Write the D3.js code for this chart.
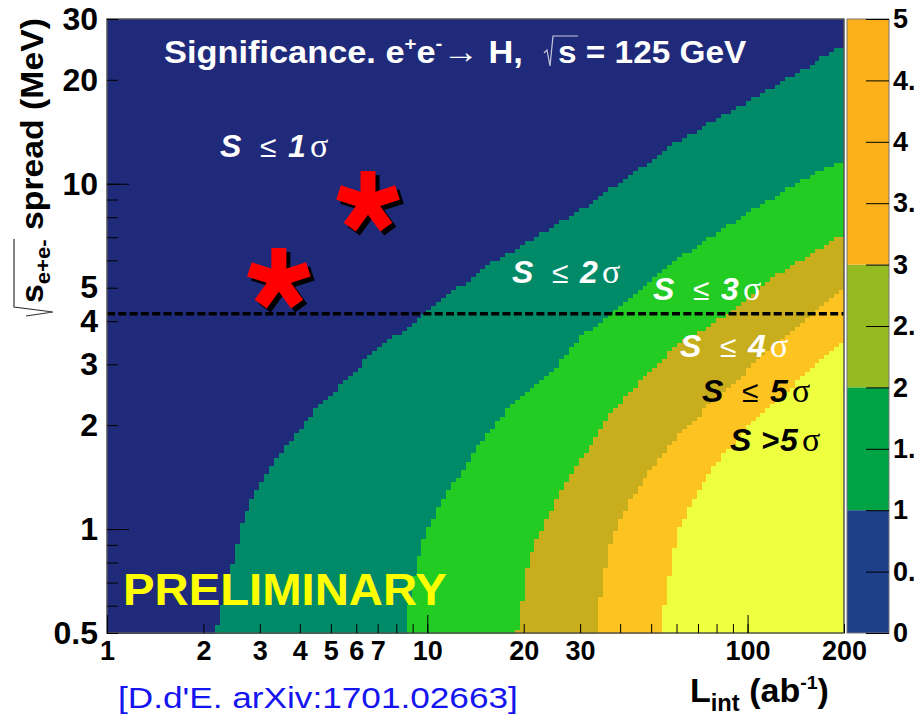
<!DOCTYPE html>
<html>
<head>
<meta charset="utf-8">
<title>Significance e+e- -> H</title>
<script src="https://cdn.jsdelivr.net/npm/d3@7"></script>
<style>
  body { margin: 0; background: #fff; }
  text { font-family: "Liberation Sans", Arial, sans-serif; }
</style>
</head>
<body>
<svg width="914" height="721" id="mainsvg"></svg>
<script>

// contour edges: [spread (MeV), L_int (ab^-1)]
const edge1sigma = [[0.5,2.19],[0.6,2.29],[0.8,2.47],[1.0,2.6],[1.2,2.8],[1.41,3.07],[1.61,3.4],[1.9,3.92],[2.21,4.46],[2.49,5.08],[2.95,6.08],[3.37,7.12],[3.85,8.64],[4.22,9.98],[4.7,11.4],[5.63,14.6],[8.4,30.0],[13.4,61.5],[19.6,126],[25.2,199]];
const edge2sigma = [[0.5,8.46],[0.8,9.22],[1.01,10.05],[1.21,11.12],[1.48,12.83],[1.73,14.3],[2.0,16.27],[2.32,18.5],[2.76,23.6],[3.6,30.0],[4.31,38.0],[6.14,61.5],[8.23,99.6],[10.7,160],[11.7,199]];
const edge3sigma = [[0.5,19.05],[0.8,20.6],[1.08,23.6],[1.39,27.3],[1.58,30.0],[2.21,38.0],[2.83,48.5],[3.46,61.5],[3.95,78.0],[4.22,88.1],[5.51,126],[7.2,199]];
const edge4sigma = [[0.5,33.9],[0.7,35.1],[0.97,38.0],[1.21,42.9],[1.45,48.5],[1.9,61.5],[2.36,78.0],[2.83,97],[3.3,116],[3.85,140],[4.22,160],[5.0,199]];
const edge5sigma = [[0.5,53.3],[0.62,55.2],[0.97,60.2],[1.21,67.5],[1.51,78.0],[1.98,99.6],[2.41,126],[2.95,160],[3.53,199]];
const bandEdges = [edge1sigma, edge2sigma, edge3sigma, edge4sigma, edge5sigma];
const bandColors = ['#1f2a7a', '#008a68', '#22cc22', '#c8ae1c', '#fdc320', '#eeff40'];

// star markers [L_int, spread]
const stars = [[3.44, 5.3], [6.53, 8.85]];
const higgsWidth = 4.2;

const xTicks = [1,2,3,4,5,6,7,8,9,10,20,30,40,50,60,70,80,90,100,200];
const xMajor = [1, 10, 100];
const xTickLabels = [1,2,3,4,5,6,7,10,20,30,100,200];
const yTicks = [0.5,0.6,0.7,0.8,0.9,1,2,3,4,5,6,7,8,9,10,20,30];
const yMajor = [1, 10];
const yTickLabels = [0.5,1,2,3,4,5,10,20,30];

// palette (colour bar)
const paletteLevels = [0, 1, 2, 3, 5];
const paletteColors = ['#1e3f8a', '#00a444', '#94bc22', '#fdb01a'];
const paletteTicks = [0,0.5,1,1.5,2,2.5,3,3.5,4,4.5,5];

const svg = d3.select('#mainsvg');
const X0 = 107, X1 = 844, Y0 = 19, Y1 = 633;

const x = d3.scaleLog().domain([1, 200]).range([X0, X1]);
const y = d3.scaleLog().domain([0.5, 30]).range([Y1, Y0]);
const z = d3.scaleLinear().domain([0, 5]).range([Y1, Y0]);

// log-log interpolation along a read contour
function edgeAt(pts, s) {
  if (s > pts[pts.length - 1][0]) return Infinity;
  if (s <= pts[0][0]) return pts[0][1];
  const i = d3.bisector(d => d[0]).left(pts, s);
  const a = pts[i - 1], b = pts[i];
  const t = Math.log(s / a[0]) / Math.log(b[0] / a[0]);
  return a[1] * Math.pow(b[1] / a[1], t);
}

// histogram binning (log bins, like the TH2)
const nx = 150, ny = 150;
const xe = d3.range(nx + 1).map(i => Math.pow(200, i / nx));
const ye = d3.range(ny + 1).map(j => 0.5 * Math.pow(60, j / ny));

const cells = [];
for (let j = 0; j < ny; j++) {
  const sc = Math.sqrt(ye[j] * ye[j + 1]);
  const cuts = [1];
  bandEdges.forEach(pts => {
    const L = edgeAt(pts, sc);
    let i = 0;
    while (i < nx && Math.sqrt(xe[i] * xe[i + 1]) < L) i++;
    cuts.push(Math.max(i < nx ? xe[i] : 200, cuts[cuts.length - 1]));
  });
  cuts.push(200);
  for (let k = 0; k < 6; k++) {
    if (cuts[k + 1] > cuts[k]) cells.push({x0: cuts[k], x1: cuts[k + 1], y0: ye[j], y1: ye[j + 1], band: k});
  }
}

svg.append('rect')
  .attr('x', X0).attr('y', Y0).attr('width', X1 - X0).attr('height', Y1 - Y0)
  .attr('fill', bandColors[0]);

svg.append('g').selectAll('rect')
  .data(cells)
  .enter().append('rect')
  .attr('x', d => x(d.x0))
  .attr('y', d => y(d.y1))
  .attr('width', d => x(d.x1) - x(d.x0) + 0.4)
  .attr('height', d => y(d.y0) - y(d.y1) + 0.6)
  .attr('fill', d => bandColors[d.band])
  .attr('shape-rendering', 'crispEdges');

// keep everything inside the frame
svg.append('rect').attr('x', X1).attr('y', 0).attr('width', 3).attr('height', Y1 + 2).attr('fill', '#fff');

function fit(t, x0, x1) {
  const w = t.node().getBBox().width;
  const s = (x1 - x0) / w;
  t.attr('transform', `translate(${x0},0) scale(${s},1) translate(${-x0},0)`);
}

// title
const title = svg.append('text')
  .attr('x', 164).attr('y', 63)
  .attr('fill', '#fff').attr('font-weight', 'bold').attr('font-size', 32);
title.append('tspan').text('Significance. e');
title.append('tspan').attr('font-size', 19).attr('dy', -13).text('+');
title.append('tspan').attr('dy', 13).text('e');
title.append('tspan').attr('font-size', 19).attr('dy', -13).text('-');
title.append('tspan').attr('dy', 13).attr('font-weight', 'normal').attr('font-size', 34).text('\u2192');
title.append('tspan').text(' H,');
fit(title, 164, 523);

svg.append('path')
  .attr('d', 'M544,53 L547,50 L550,66 L553,36 L578,36')
  .attr('fill', 'none').attr('stroke', '#c8c8d8').attr('stroke-width', 1.2);

const title2 = svg.append('text')
  .attr('x', 558).attr('y', 63)
  .attr('fill', '#fff').attr('font-weight', 'bold').attr('font-size', 32)
  .text('s = 125 GeV');
fit(title2, 558, 747);

// significance labels
const sigLabels = [
  {op: '\u2264', n: '1', px: 220, py: 157, fill: '#fff'},
  {op: '\u2264', n: '2', px: 512, py: 283, fill: '#fff'},
  {op: '\u2264', n: '3', px: 653, py: 300, fill: '#fff'},
  {op: '\u2264', n: '4', px: 680, py: 357, fill: '#fff'},
  {op: '\u2264', n: '5', px: 702, py: 402, fill: '#000'},
  {op: '>', n: '5', px: 730, py: 451, fill: '#000'}
];
const lab = svg.append('g').selectAll('g')
  .data(sigLabels)
  .enter().append('g')
  .attr('transform', d => `translate(${d.px},${d.py})`)
  .attr('fill', d => d.fill);
lab.append('text').attr('font-size', 32).attr('font-weight', 'bold').attr('font-style', 'italic').text('S');
lab.append('text')
  .attr('x', d => d.op === '>' ? 31 : 40)
  .attr('font-size', d => d.op === '>' ? 31 : 30)
  .attr('font-weight', d => d.op === '>' ? 'bold' : 'normal')
  .attr('font-style', d => d.op === '>' ? 'italic' : 'normal')
  .text(d => d.op);
lab.append('text')
  .attr('x', d => d.op === '>' ? 50 : 68)
  .attr('font-size', 32).attr('font-weight', 'bold').attr('font-style', 'italic')
  .text(d => d.n);
lab.append('text')
  .attr('x', d => d.op === '>' ? 72 : 90)
  .attr('font-size', 34).style('font-family', '"Liberation Serif", serif')
  .text('\u03c3');

// preliminary
const prelim = svg.append('text')
  .attr('x', 123).attr('y', 605)
  .attr('fill', '#ffff00').attr('font-weight', 'bold').attr('font-size', 44)
  .text('PRELIMINARY');
fit(prelim, 123, 447);

// Higgs width line
svg.append('line')
  .attr('x1', x(1)).attr('x2', x(200))
  .attr('y1', y(higgsWidth)).attr('y2', y(higgsWidth))
  .attr('stroke', '#000').attr('stroke-width', 3.5)
  .attr('stroke-dasharray', '8,3.3');

// stars
const armAngles = [-90, -18, 54, 126, 198];
function star(g, cx, cy, color) {
  g.append('g').selectAll('line')
    .data(armAngles)
    .enter().append('line')
    .attr('x1', cx).attr('y1', cy)
    .attr('x2', a => cx + 31 * Math.cos(a * Math.PI / 180))
    .attr('y2', a => cy + 31 * Math.sin(a * Math.PI / 180))
    .attr('stroke', color).attr('stroke-width', 15);
}
const starG = svg.append('g');
stars.forEach(s => star(starG, x(s[0]) + 4, y(s[1]) + 4, '#000'));
stars.forEach(s => star(starG, x(s[0]), y(s[1]), '#ff0000'));

// frame
svg.append('rect')
  .attr('x', X0).attr('y', Y0).attr('width', X1 - X0).attr('height', Y1 - Y0)
  .attr('fill', 'none').attr('stroke', '#555').attr('stroke-width', 1.5);

// x axis: ticks inside, labels below
const xg = svg.append('g').attr('transform', `translate(0,${Y1})`);
xg.append('g').call(d3.axisBottom(x).tickValues(xTicks).tickSize(-9).tickFormat(''));
xg.append('g').call(d3.axisBottom(x).tickValues(xMajor).tickSize(-18).tickFormat(''));
xg.append('g').call(d3.axisBottom(x).tickValues(xTickLabels).tickSize(0).tickPadding(8).tickFormat(d => d));
xg.selectAll('.domain').remove();
xg.selectAll('line').attr('stroke', '#000');
xg.selectAll('text').style('font-size', '27px').style('font-weight', 'bold')
  .style('font-family', '"Liberation Sans", Arial, sans-serif');

// y axis
const yg = svg.append('g').attr('transform', `translate(${X0},0)`);
yg.append('g').call(d3.axisLeft(y).tickValues(yTicks).tickSize(-11).tickFormat(''));
yg.append('g').call(d3.axisLeft(y).tickValues(yMajor).tickSize(-22).tickFormat(''));
yg.append('g').call(d3.axisLeft(y).tickValues(yTickLabels).tickSize(0).tickPadding(9).tickFormat(d => d));
yg.selectAll('.domain').remove();
yg.selectAll('line').attr('stroke', '#000');
yg.selectAll('text').style('font-size', '32px').style('font-weight', 'bold')
  .style('font-family', '"Liberation Sans", Arial, sans-serif');

// colour bar
const CB0 = 847, CB1 = 889;
svg.append('g').selectAll('rect')
  .data(paletteColors)
  .enter().append('rect')
  .attr('x', CB0)
  .attr('y', (d, i) => z(paletteLevels[i + 1]))
  .attr('width', CB1 - CB0)
  .attr('height', (d, i) => z(paletteLevels[i]) - z(paletteLevels[i + 1]))
  .attr('fill', d => d);
svg.append('rect')
  .attr('x', CB0).attr('y', Y0).attr('width', CB1 - CB0).attr('height', Y1 - Y0)
  .attr('fill', 'none').attr('stroke', '#777').attr('stroke-width', 1);
const zg = svg.append('g').attr('transform', `translate(${CB1},0)`);
zg.call(d3.axisRight(z).tickValues(paletteTicks).tickSize(-23).tickPadding(4).tickFormat(d => d));
zg.select('.domain').remove();
zg.selectAll('line').attr('stroke', '#000');
zg.selectAll('text').style('font-size', '27px').style('font-weight', 'bold')
  .style('font-family', '"Liberation Sans", Arial, sans-serif');

// x title
const xt = svg.append('text')
  .attr('x', 690).attr('y', 702)
  .attr('font-weight', 'bold').attr('font-size', 33).attr('fill', '#000');
xt.append('tspan').text('L');
xt.append('tspan').attr('font-size', 23).attr('dy', 9).text('int');
xt.append('tspan').attr('dy', -9).text(' (ab');
xt.append('tspan').attr('font-size', 19).attr('dy', -13).text('-1');
xt.append('tspan').attr('dy', 13).text(')');
fit(xt, 690, 829);

// y title (rotated)
const ytG = svg.append('g').attr('transform', 'translate(43,303) rotate(-90)');
const yt = ytG.append('text')
  .attr('x', 0).attr('y', 0)
  .attr('font-weight', 'bold').attr('font-size', 32).attr('fill', '#000');
yt.append('tspan').text('s');
yt.append('tspan').attr('font-size', 21).attr('dy', 7).text('e+e-');
yt.append('tspan').attr('dy', -7).text(' spread (MeV)');
fit(yt, 0, 285);
svg.append('path')
  .attr('d', 'M14,239 L14,307 L53,312 L26,316')
  .attr('fill', 'none').attr('stroke', '#333').attr('stroke-width', 1.2);

// reference
const ref = svg.append('text')
  .attr('x', 118).attr('y', 708)
  .attr('fill', '#1515f0').attr('font-size', 29)
  .text("[D.d'E. arXiv:1701.02663]");
fit(ref, 118, 518);

</script>
</body>
</html>
